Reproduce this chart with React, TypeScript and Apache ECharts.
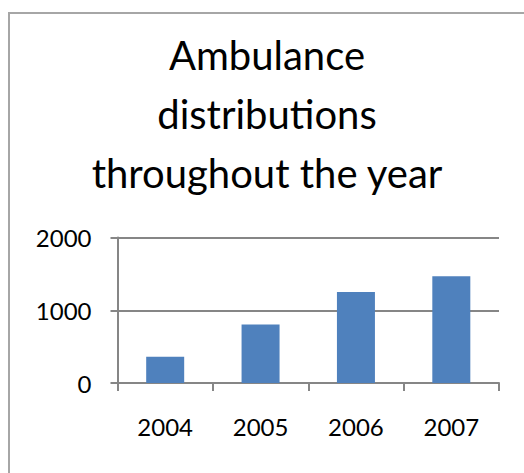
import React, { useEffect, useRef } from "react";
import * as echarts from "echarts";

const titleText = "Ambulance\ndistributions\nthroughout the year";
const categories = ["2004", "2005", "2006", "2007"];
const values = [360, 804, 1251, 1466];
const yTicks = [0, 1000, 2000];

export default function App() {
  const ref = useRef<HTMLDivElement>(null);
  useEffect(() => {
    if (!ref.current) return;
    const chart = echarts.init(ref.current, null, { renderer: "svg" });
    chart.setOption({
      animation: false,
      backgroundColor: "#ffffff",
      graphic: [
        {
          type: "rect",
          shape: { x: 9, y: 13, width: 700, height: 700 },
          style: { fill: "none", stroke: "#a6a6a6", lineWidth: 2 },
          silent: true,
        },
      ],
      title: {
        text: titleText,
        left: 262,
        top: 20,
        textAlign: "center",
        textStyle: {
          fontFamily: "Lato",
          fontSize: 40,
          fontWeight: "normal",
          color: "#000000",
          lineHeight: 59,
        },
      },
      grid: { left: 117.5, right: 25, top: 237.5, bottom: 90 },
      xAxis: {
        type: "category",
        data: categories,
        axisLine: { show: true, lineStyle: { color: "#868686", width: 2 } },
        axisTick: { show: true, alignWithLabel: false, length: 8, lineStyle: { color: "#868686", width: 2 } },
        axisLabel: { fontFamily: "Lato", fontSize: 24, color: "#000000", margin: 31 },
        splitLine: { show: false },
      },
      yAxis: {
        type: "value",
        min: yTicks[0],
        max: yTicks[yTicks.length - 1],
        interval: 1000,
        axisLine: { show: true, lineStyle: { color: "#868686", width: 2 } },
        axisTick: { show: true, length: 7, lineStyle: { color: "#868686", width: 2 } },
        axisLabel: {
          fontFamily: "Lato",
          fontSize: 24,
          color: "#000000",
          margin: 26,
          formatter: (v: number) => String(v),
        },
        splitLine: { show: true, lineStyle: { color: "#868686", width: 2 } },
      },
      series: [
        {
          type: "bar",
          data: values,
          barWidth: 38,
          itemStyle: { color: "#4f81bd" },
        },
      ],
    });
    return () => chart.dispose();
  }, []);
  return (
    <div
      ref={ref}
      style={{ position: "fixed", left: 0, top: 0, width: 524, height: 473 }}
    />
  );
}
